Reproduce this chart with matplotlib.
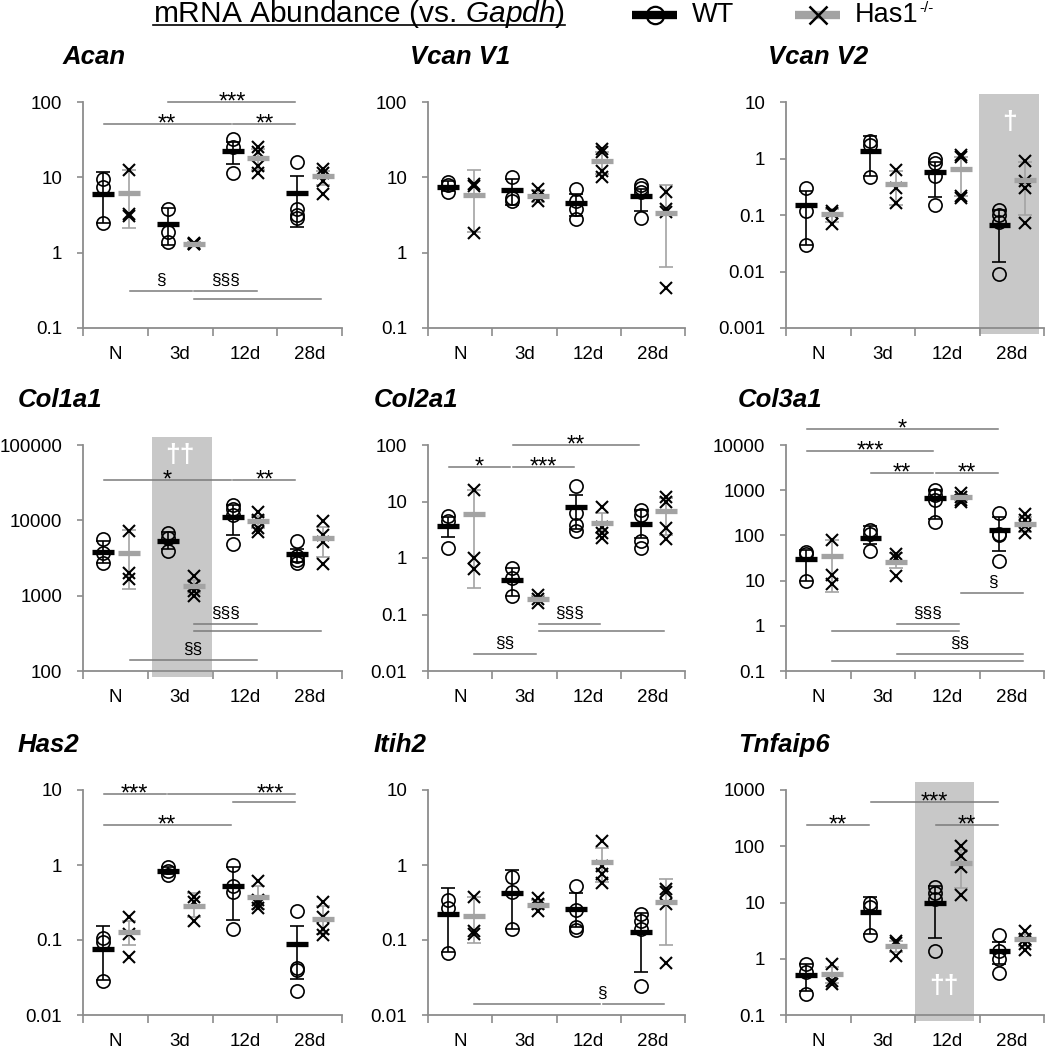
import matplotlib
matplotlib.use('Agg')
import matplotlib.pyplot as plt
import matplotlib.transforms as mtransforms
from matplotlib.lines import Line2D
from matplotlib.patches import Rectangle
from matplotlib.ticker import FixedLocator, NullLocator, FuncFormatter

plt.rcParams['font.family'] = ['Liberation Sans', 'DejaVu Sans']
plt.rcParams['mathtext.fontset'] = 'custom'
plt.rcParams['mathtext.rm'] = 'Liberation Sans'
plt.rcParams['mathtext.it'] = 'Liberation Sans:italic'
plt.rcParams['mathtext.bf'] = 'Liberation Sans:bold'

DAYS = ['N', '3d', '12d', '28d']

# ---- data: mean, error bar ends [low, high], individual animals ----
ACAN_WT = [6.1, 2.4, 22.3, 6.25]
ACAN_WT_ERR = [[2.5, 1.26, 15, 2.2], [11.8, 3.9, 29, 10.4]]
ACAN_WT_PTS = [[9.5, 7.5, 2.5], [3.8, 1.9, 1.4], [32, 25, 11.5], [16, 3.8, 3.2, 2.9]]
ACAN_KO = [6.25, 1.32, 18.3, 10.4]
ACAN_KO_ERR = [[2.15, 1.25, 12.5, 8], [12.4, 1.4, 24, 12]]
ACAN_KO_PTS = [[12.5, 3.3, 3.1], [1.35, 1.32, 1.3], [25, 22, 14, 11.5], [13, 11.5, 9, 6.1]]

VCAN1_WT = [7.5, 6.7, 4.6, 5.65]
VCAN1_WT_ERR = [[6.6, 4.3, 3.07, 3.6], [8.9, 9.4, 5.95, 7.1]]
VCAN1_WT_PTS = [[8.7, 8.0, 6.3], [10, 5.3, 4.8], [6.9, 4.9, 3.8, 2.8], [8.0, 7.2, 6.3, 2.9]]
VCAN1_KO = [5.8, 5.65, 16.5, 3.4]
VCAN1_KO_ERR = [[1.9, 4.7, 11, 0.645], [12.4, 6.8, 22, 7.9]]
VCAN1_KO_PTS = [[8.2, 7.7, 1.8], [6.9, 5.6, 4.9], [24, 22, 12, 10], [6.4, 3.8, 3.5, 0.34]]

VCAN2_WT = [0.15, 1.35, 0.58, 0.066]
VCAN2_WT_ERR = [[0.03, 0.5, 0.21, 0.0146], [0.27, 2.5, 0.87, 0.122]]
VCAN2_WT_PTS = [[0.3, 0.12, 0.03], [2.0, 1.7, 0.48], [1.0, 0.82, 0.5, 0.15], [0.125, 0.1, 0.075, 0.009]]
VCAN2_KO = [0.103, 0.36, 0.64, 0.415]
VCAN2_KO_ERR = [[0.075, 0.15, 0.22, 0.1], [0.13, 0.6, 1.07, 0.87]]
VCAN2_KO_PTS = [[0.12, 0.11, 0.07], [0.62, 0.3, 0.16], [1.15, 1.05, 0.22, 0.2], [0.92, 0.4, 0.3, 0.071]]

COL1_WT = [3800, 5320, 11100, 3540]
COL1_WT_ERR = [[2700, 4200, 6300, 2800], [5300, 7000, 15800, 4200]]
COL1_WT_PTS = [[5600, 3700, 2700], [6700, 5900, 3900], [15800, 14300, 11600, 4900], [5300, 3400, 3000, 2700]]
COL1_KO = [3680, 1340, 9850, 5890]
COL1_KO_ERR = [[1240, 1100, 7800, 3260], [7370, 1600, 11500, 8160]]
COL1_KO_PTS = [[7200, 2000, 1650], [1850, 1350, 1150, 1000], [13000, 10000, 7800, 7000], [9800, 6300, 5100, 2600]]

COL2_WT = [3.62, 0.40, 7.9, 3.98]
COL2_WT_ERR = [[2.4, 0.21, 3.2, 2.25], [5.4, 0.67, 13.1, 7.1]]
COL2_WT_PTS = [[5.5, 4.5, 1.5], [0.67, 0.45, 0.21], [19, 6.2, 3.8, 3.0], [7.0, 5.8, 2.0, 1.5]]
COL2_KO = [5.98, 0.19, 4.15, 6.85]
COL2_KO_ERR = [[0.30, 0.17, 2.76, 2.6], [16.1, 0.21, 6.2, 11.4]]
COL2_KO_PTS = [[16, 1.0, 0.65], [0.22, 0.19, 0.16], [7.9, 3.6, 2.8, 2.3], [12, 10, 3.4, 2.2]]

COL3_WT = [29.4, 88.8, 659, 131]
COL3_WT_ERR = [[10, 63, 225, 45], [47, 161, 1000, 260]]
COL3_WT_PTS = [[44, 38, 10], [135, 110, 45], [1000, 800, 620, 200], [310, 110, 100, 27]]
COL3_KO = [34.8, 26.1, 694, 181]
COL3_KO_ERR = [[5.5, 19, 600, 120], [79, 41, 780, 260]]
COL3_KO_PTS = [[80, 13, 8.5], [38, 31, 12.5], [870, 720, 600, 560], [300, 220, 160, 115]]

HAS2_WT = [0.076, 0.84, 0.53, 0.088]
HAS2_WT_ERR = [[0.029, 0.76, 0.185, 0.03], [0.155, 0.93, 0.93, 0.155]]
HAS2_WT_PTS = [[0.105, 0.095, 0.028], [0.93, 0.84, 0.74], [1.0, 0.52, 0.43, 0.14], [0.24, 0.042, 0.04, 0.021]]
HAS2_KO = [0.127, 0.287, 0.378, 0.19]
HAS2_KO_ERR = [[0.085, 0.2, 0.26, 0.12], [0.18, 0.42, 0.52, 0.28]]
HAS2_KO_PTS = [[0.2, 0.12, 0.06], [0.37, 0.32, 0.18], [0.62, 0.34, 0.3, 0.27], [0.32, 0.2, 0.14, 0.115]]

ITIH2_WT = [0.222, 0.42, 0.259, 0.129]
ITIH2_WT_ERR = [[0.07, 0.14, 0.15, 0.038], [0.49, 0.87, 0.42, 0.227]]
ITIH2_WT_PTS = [[0.34, 0.27, 0.068], [0.7, 0.43, 0.14], [0.52, 0.25, 0.15, 0.135], [0.22, 0.18, 0.14, 0.024]]
ITIH2_KO = [0.21, 0.293, 1.085, 0.318]
ITIH2_KO_ERR = [[0.092, 0.26, 0.6, 0.086], [0.37, 0.34, 1.67, 0.66]]
ITIH2_KO_PTS = [[0.37, 0.13, 0.12], [0.36, 0.3, 0.24], [2.1, 0.97, 0.77, 0.58], [0.48, 0.43, 0.3, 0.05]]

TNF_WT = [0.51, 6.65, 9.9, 1.37]
TNF_WT_ERR = [[0.27, 2.8, 2.3, 0.8], [0.8, 12.3, 20, 2.0]]
TNF_WT_PTS = [[0.8, 0.58, 0.24], [10, 8.4, 2.6], [18.5, 15, 11.5, 1.35], [2.6, 1.4, 1.0, 0.55]]
TNF_KO = [0.53, 1.7, 51, 2.24]
TNF_KO_ERR = [[0.37, 1.3, 18.2, 1.7], [0.72, 2.1, 85, 2.8]]
TNF_KO_PTS = [[0.8, 0.4, 0.36], [2.1, 1.9, 1.1], [100, 68, 42, 13.5], [3.1, 2.2, 1.8, 1.45]]

# significance bars: (from day, to day, group, level, label[, label x, label y])
ACAN_SIG = [(1, 3, 'wt', 100, '***'), (0, 2, 'wt', 51, '**'), (2, 3, 'wt', 51, '**'),
            (0, 1, 'ko', 0.31, '§'), (1, 2, 'ko', 0.31, '§§§'), (1, 3, 'ko', 0.244, '')]
COL1_SIG = [(0, 2, 'wt', 34100, '*'), (2, 3, 'wt', 34100, '**'), (1, 2, 'ko', 423, '§§§'),
            (1, 3, 'ko', 341, ''), (0, 2, 'ko', 140, '§§')]
COL2_SIG = [(0, 1, 'wt', 40.8, '*'), (1, 2, 'wt', 40.8, '***'), (1, 3, 'wt', 100, '**'),
            (1, 2, 'ko', 0.068, '§§§'), (1, 3, 'ko', 0.051, ''), (0, 1, 'ko', 0.02, '§§')]
COL3_SIG = [(0, 3, 'wt', 22700, '*'), (0, 2, 'wt', 7360, '***'), (1, 2, 'wt', 2387, '**'),
            (2, 3, 'wt', 2387, '**'), (2, 3, 'ko', 5.4, '§'), (1, 2, 'ko', 1.11, '§§§'),
            (0, 2, 'ko', 0.774, ''), (1, 3, 'ko', 0.239, '§§'), (0, 3, 'ko', 0.167, '')]
HAS2_SIG = [(0, 1, 'wt', 8.85, '***'), (1, 3, 'wt', 8.85, ''), (2, 3, 'wt', 6.92, '***', 2.4, 8.85),
            (0, 2, 'wt', 3.4, '**')]
ITIH2_SIG = [(0, 2, 'ko', 0.014, ''), (2, 3, 'ko', 0.014, '§', 2.2, 0.014)]
TNF_SIG = [(0, 1, 'wt', 237, '**'), (1, 3, 'wt', 607, '***'), (2, 3, 'wt', 237, '**')]

PANELS = [
    ('Acan', (0.1, 100), ACAN_WT, ACAN_WT_ERR, ACAN_WT_PTS, ACAN_KO, ACAN_KO_ERR, ACAN_KO_PTS, ACAN_SIG),
    ('Vcan V1', (0.1, 100), VCAN1_WT, VCAN1_WT_ERR, VCAN1_WT_PTS, VCAN1_KO, VCAN1_KO_ERR, VCAN1_KO_PTS, []),
    ('Vcan V2', (0.001, 10), VCAN2_WT, VCAN2_WT_ERR, VCAN2_WT_PTS, VCAN2_KO, VCAN2_KO_ERR, VCAN2_KO_PTS, []),
    ('Col1a1', (100, 100000), COL1_WT, COL1_WT_ERR, COL1_WT_PTS, COL1_KO, COL1_KO_ERR, COL1_KO_PTS, COL1_SIG),
    ('Col2a1', (0.01, 100), COL2_WT, COL2_WT_ERR, COL2_WT_PTS, COL2_KO, COL2_KO_ERR, COL2_KO_PTS, COL2_SIG),
    ('Col3a1', (0.1, 10000), COL3_WT, COL3_WT_ERR, COL3_WT_PTS, COL3_KO, COL3_KO_ERR, COL3_KO_PTS, COL3_SIG),
    ('Has2', (0.01, 10), HAS2_WT, HAS2_WT_ERR, HAS2_WT_PTS, HAS2_KO, HAS2_KO_ERR, HAS2_KO_PTS, HAS2_SIG),
    ('Itih2', (0.01, 10), ITIH2_WT, ITIH2_WT_ERR, ITIH2_WT_PTS, ITIH2_KO, ITIH2_KO_ERR, ITIH2_KO_PTS, ITIH2_SIG),
    ('Tnfaip6', (0.1, 1000), TNF_WT, TNF_WT_ERR, TNF_WT_PTS, TNF_KO, TNF_KO_ERR, TNF_KO_PTS, TNF_SIG),
]

# shaded day columns with dagger marks: panel index, x span, mark, mark x, mark y (axes frac)
SHADES = [(2, 2.49, 3.42, '†', 2.96, 0.91),
          (3, 0.57, 1.49, '††', 1.0, 0.955),
          (8, 1.50, 2.41, '††', 1.95, 0.13)]

W, H = 1046, 1050
GRAY = '#8c8c8c'
KO_GRAY = '#a3a3a3'
LINE_GRAY = '#7a7a7a'
COLS = [(83, 342), (428, 685), (786, 1044)]
ROWS = [(102, 328), (445, 671), (790, 1015)]
TITLE_X = [[63, 410, 768], [18, 374, 738], [18, 374, 738]]
WT_OFF, KO_OFF = -0.19, 0.21

fig = plt.figure(figsize=(W / 100, H / 100), dpi=100)
axes = []

for k, (name, ylim, wm, we, wp, km, ke, kp, sig) in enumerate(PANELS):
    r, c = divmod(k, 3)
    x0, x1 = COLS[c]
    y0, y1 = ROWS[r]
    ax = fig.add_axes([x0 / W, 1 - y1 / H, (x1 - x0) / W, (y1 - y0) / H])
    axes.append(ax)
    ax.set_yscale('log')
    ax.set_ylim(*ylim)
    ax.set_xlim(-0.5, 3.5)

    for off, m, e, pts, col, mk in [(WT_OFF, wm, we, wp, 'black', 'o'), (KO_OFF, km, ke, kp, KO_GRAY, 'x')]:
        xs = [i + off for i in range(4)]
        lo = [mm - l for mm, l in zip(m, e[0])]
        hi = [h - mm for mm, h in zip(m, e[1])]
        ax.errorbar(xs, m, yerr=[lo, hi], fmt='none', ecolor=col, elinewidth=1.2,
                    capsize=5, capthick=1.2, zorder=2)
        for x, p in zip(xs, pts):
            if mk == 'o':
                ax.plot([x] * len(p), p, 'o', ms=9.5, mfc='none', mec='black', mew=1.2, zorder=3)
            else:
                ax.plot([x] * len(p), p, 'x', ms=8.5, color='black', mew=1.5, zorder=3)
        ax.hlines(m, [x - 0.17 for x in xs], [x + 0.17 for x in xs], color=col, lw=3.8, zorder=4)

    for s in sig:
        i, j, grp, yv, lab = s[:5]
        off = WT_OFF if grp == 'wt' else KO_OFF
        xa, xb = i + off + 0.01, j + off - 0.03
        ax.plot([xa, xb], [yv, yv], color=LINE_GRAY, lw=1.1, clip_on=False, zorder=5)
        if lab:
            lx = s[5] if len(s) > 5 else (xa + xb) / 2
            ly = s[6] if len(s) > 6 else yv
            if '*' in lab:
                fs, dy = 17, -4.7
            else:
                fs, dy = 12.5, 4.3
            ax.annotate(lab, xy=(lx, ly), xytext=(0, dy), textcoords='offset points',
                        ha='center', va='baseline', fontsize=fs, annotation_clip=False)

    ax.yaxis.set_major_locator(FixedLocator([10.0 ** e for e in range(-3, 6)]))
    ax.yaxis.set_minor_locator(NullLocator())
    ax.yaxis.set_major_formatter(FuncFormatter(lambda v, p: f'{v:.10g}'))
    ax.set_ylim(*ylim)
    ax.set_xticks([-0.5, 0.5, 1.5, 2.5, 3.5])
    ax.set_xticklabels([])
    ax.set_xticks(range(4), minor=True)
    ax.set_xticklabels(DAYS, minor=True)
    ax.tick_params(axis='y', direction='out', length=4, width=1.2, color=GRAY, pad=11, labelsize=13.5)
    ax.tick_params(axis='x', which='major', direction='out', length=6, width=1.2, color=GRAY)
    ax.tick_params(axis='x', which='minor', length=0, pad=13, labelsize=13.5)
    for sp in ['top', 'right']:
        ax.spines[sp].set_visible(False)
    for sp in ['left', 'bottom']:
        ax.spines[sp].set_color(GRAY)
        ax.spines[sp].set_linewidth(1.3)

    fig.text(TITLE_X[r][c] / W, 1 - (y0 - 38) / H, name, fontsize=18.5,
             fontweight='bold', fontstyle='italic', va='baseline')

for k, xa, xb, mark, mx, my in SHADES:
    ax = axes[k]
    tr = mtransforms.blended_transform_factory(ax.transData, ax.transAxes)
    ax.add_patch(Rectangle((xa, -0.025), xb - xa, 1.06, transform=tr, color='#c8c8c8',
                           zorder=0, clip_on=False, lw=0))
    ax.text(mx, my, mark, transform=tr, color='white', fontsize=19, fontweight='bold',
            ha='center', va='center', zorder=1)

# header and legend
base = 1 - 22 / H
hdr = fig.text(153 / W, base, 'mRNA Abundance (vs. $\\mathit{Gapdh}$)', fontsize=21.5, va='baseline')
ko_txt = fig.text(855 / W, base, 'Has1', fontsize=19.5, va='baseline')
fig.text(692 / W, base, 'WT', fontsize=19.5, va='baseline')
fig.canvas.draw()
rend = fig.canvas.get_renderer()
bb = hdr.get_window_extent(rend)
fig.add_artist(Line2D([bb.x0 / W, bb.x1 / W], [1 - 25 / H] * 2, color='black', lw=1.2))
kb = ko_txt.get_window_extent(rend)
fig.text(kb.x1 / W + 1 / W, 1 - 12 / H, '-/-', fontsize=11, va='baseline')

ly = 1 - 15 / H
fig.add_artist(Line2D([632 / W, 677 / W], [ly, ly], color='black', lw=6, solid_capstyle='butt'))
fig.add_artist(Line2D([654.5 / W], [ly], marker='o', ms=12.5, mfc='none', mec='black', mew=1.6))
fig.add_artist(Line2D([795 / W, 840 / W], [ly, ly], color=KO_GRAY, lw=6, solid_capstyle='butt'))
fig.add_artist(Line2D([817.5 / W], [ly], marker='x', ms=13, color='black', mew=1.8))

fig.savefig('out.png', dpi=100)
